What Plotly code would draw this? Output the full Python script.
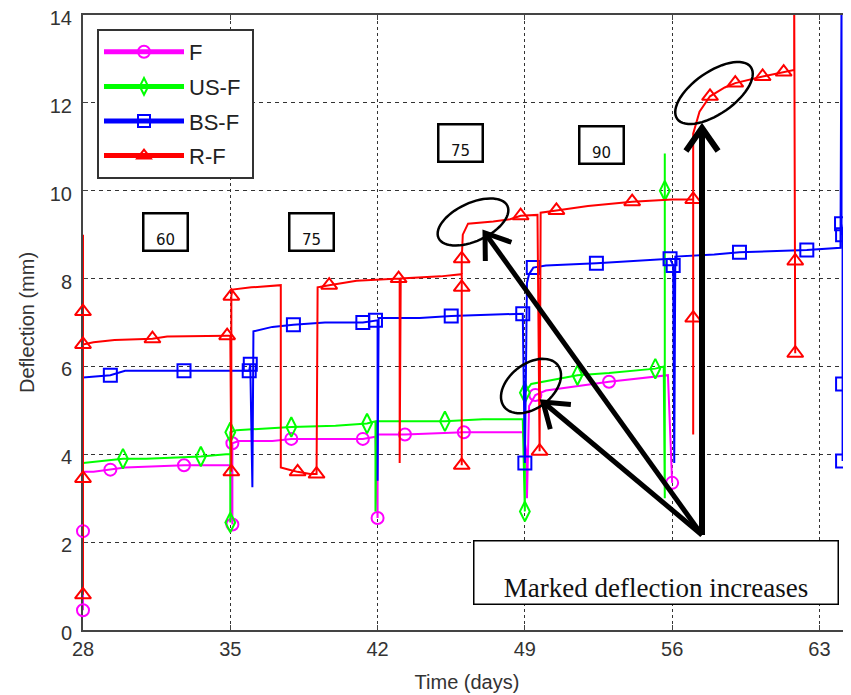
import math
import plotly.graph_objects as go

# ---------------- data ----------------
F_days = [28.0, 28.0, 28.0, 28.5, 29.3, 30.0, 32.8, 34.8, 35.0, 35.1, 35.1, 35.4, 37.0, 37.9, 41.3, 41.9, 42.0, 42.0, 43.3, 46.1, 48.9, 49.1, 49.1, 49.2, 49.5, 50.0, 53.0, 55.8, 56.0]
F_defl = [0.45, 2.25, 3.6, 3.6, 3.65, 3.7, 3.75, 3.75, 3.75, 2.4, 4.25, 4.3, 4.3, 4.35, 4.35, 4.4, 2.55, 4.45, 4.45, 4.5, 4.5, 4.0, 3.0, 5.1, 5.35, 5.45, 5.65, 5.8, 3.35]
F_mark = [1, 1, 0, 0, 1, 0, 1, 0, 0, 1, 1, 0, 0, 1, 1, 0, 1, 0, 1, 1, 0, 0, 0, 0, 1, 0, 1, 0, 1]

USF_days = [28.0, 29.0, 29.9, 31.0, 33.6, 34.8, 35.0, 35.0, 35.0, 35.3, 37.0, 37.9, 40.0, 41.5, 41.9, 41.9, 41.95, 44.0, 45.2, 47.0, 48.9, 49.0, 49.0, 49.3, 50.5, 51.5, 53.0, 55.2, 55.6, 55.65, 55.65, 55.65]
USF_defl = [3.8, 3.85, 3.9, 3.9, 3.95, 4.0, 4.0, 2.45, 4.5, 4.55, 4.6, 4.62, 4.65, 4.7, 4.75, 2.7, 4.75, 4.75, 4.75, 4.8, 4.8, 2.7, 5.4, 5.6, 5.7, 5.8, 5.85, 5.95, 6.0, 3.0, 10.0, 10.85]
USF_mark = [0, 0, 1, 0, 1, 0, 0, 1, 1, 0, 0, 1, 0, 1, 0, 0, 0, 0, 1, 0, 0, 1, 1, 0, 0, 1, 0, 1, 0, 0, 1, 0]

BSF_days = [28.0, 29.0, 29.3, 30.0, 32.8, 35.0, 35.9, 35.95, 36.05, 36.1, 36.5, 37.0, 38.0, 39.5, 41.3, 41.9, 42.0, 42.0, 42.05, 44.0, 45.5, 48.9, 49.0, 49.1, 49.2, 49.4, 50.0, 52.4, 55.9, 56.05, 56.1, 56.15, 58.0, 59.2, 62.4, 64.0, 64.05, 64.05, 64.1, 64.1, 64.1]
BSF_defl = [5.75, 5.8, 5.8, 5.9, 5.9, 5.9, 5.9, 6.05, 3.25, 6.8, 6.85, 6.9, 6.95, 7.0, 7.0, 7.05, 7.05, 3.4, 7.1, 7.1, 7.15, 7.2, 3.8, 7.9, 8.1, 8.25, 8.3, 8.35, 8.45, 8.3, 3.8, 8.5, 8.55, 8.6, 8.65, 8.7, 14.5, 9.25, 9.0, 5.6, 3.85]
BSF_mark = [0, 0, 1, 0, 1, 0, 1, 1, 0, 0, 0, 0, 1, 0, 1, 1, 0, 0, 0, 0, 1, 1, 1, 0, 0, 1, 0, 1, 1, 1, 0, 0, 0, 1, 1, 0, 0, 1, 1, 1, 1]

RF_days = [28.0, 28.0, 28.0, 28.0, 28.0, 28.5, 29.5, 31.3, 32.0, 34.85, 35.0, 35.05, 35.05, 35.1, 36.0, 37.4, 37.4, 37.8, 38.2, 38.8, 39.1, 39.15, 39.7, 41.0, 43.0, 43.05, 43.05, 43.1, 45.0, 46.0, 46.0, 46.0, 46.0, 46.05, 46.3, 47.5, 48.3, 48.8, 49.6, 49.7, 49.75, 50.5, 52.0, 54.1, 56.0, 57.0, 57.0, 57.0, 57.0, 57.3, 57.8, 58.5, 59.0, 60.3, 61.3, 61.8, 61.8, 61.85, 61.85]
RF_defl = [0.8, 3.45, 9.0, 7.25, 6.5, 6.55, 6.6, 6.63, 6.68, 6.7, 6.7, 3.6, 7.6, 7.75, 7.8, 7.85, 3.7, 3.65, 3.6, 3.55, 3.55, 7.8, 7.85, 7.95, 8.0, 8.0, 3.8, 8.0, 8.05, 8.1, 3.75, 7.8, 8.45, 9.0, 9.25, 9.3, 9.35, 9.43, 9.45, 4.07, 9.5, 9.55, 9.65, 9.75, 9.8, 9.8, 4.45, 7.1, 11.3, 11.8, 12.15, 12.35, 12.45, 12.6, 12.7, 12.75, 14.5, 8.4, 6.3]
RF_mark = [1, 1, 0, 1, 1, 0, 0, 1, 0, 1, 0, 1, 1, 0, 0, 0, 0, 0, 1, 0, 1, 0, 1, 0, 1, 0, 0, 0, 0, 0, 1, 1, 1, 0, 0, 0, 0, 1, 0, 1, 0, 1, 0, 1, 0, 1, 0, 1, 0, 0, 1, 0, 1, 1, 1, 0, 0, 1, 1]

series_names = ["F", "US-F", "BS-F", "R-F"]
series_days = [F_days, USF_days, BSF_days, RF_days]
series_defl = [F_defl, USF_defl, BSF_defl, RF_defl]
series_mark = [F_mark, USF_mark, BSF_mark, RF_mark]

stress_labels = ["60", "75", "75", "90"]
note_text = "Marked deflection increases"

x_ticks = [28, 35, 42, 49, 56, 63]
y_ticks = [0, 2, 4, 6, 8, 10, 12, 14]

# ---------------- styles ----------------
colors = ["#FF00FF", "#00FF00", "#0000FF", "#FF0000"]
symbols = ["circle-open", "diamond-tall-open", "square-open", "triangle-up-open"]
msizes = [12, 14, 13, 14]

OFF = 8                      # page body margin
W, H = 843, 687
ML, MR, MT, MB = 75, 0, 7, 65
PW, PH = W - ML - MR, H - MT - MB


def px(xp, yp):
    """position in the screenshot (pixels) -> paper coordinates"""
    return (xp - OFF - ML) / PW, (H - MB - (yp - OFF)) / PH


fig = go.Figure()

# legend entries
for i, name in enumerate(series_names):
    fig.add_trace(go.Scatter(
        x=[None], y=[None], mode="lines+markers", name=name + "\u00a0",
        legendgroup=name,
        line=dict(color=colors[i], width=1.6),
        marker=dict(symbol=symbols[i], size=msizes[i], color=colors[i], line=dict(width=2, color=colors[i])),
    ))

# lines and markers
for i, name in enumerate(series_names):
    xs, ys, ms = series_days[i], series_defl[i], series_mark[i]
    fig.add_trace(go.Scatter(
        x=xs, y=ys, mode="lines", showlegend=False, legendgroup=name,
        line=dict(color=colors[i], width=2), hoverinfo="skip",
    ))
    fig.add_trace(go.Scatter(
        x=[x for x, m in zip(xs, ms) if m], y=[y for y, m in zip(ys, ms) if m],
        mode="markers", showlegend=False, legendgroup=name, cliponaxis=False,
        marker=dict(symbol=symbols[i], size=msizes[i], color=colors[i], line=dict(width=2, color=colors[i])),
    ))

shapes = []
annotations = []

# stress level boxes
box_centers = [(165, 232), (311, 232), (460, 143), (601, 145)]
for lab, (cx, cy) in zip(stress_labels, box_centers):
    xp, yp = px(cx, cy)
    annotations.append(dict(
        x=xp, y=yp, xref="paper", yref="paper", xanchor="center", yanchor="middle",
        text=lab, showarrow=False,
        font=dict(family="DejaVu Sans", size=15, color="#111"),
        width=40, height=33, bordercolor="black", borderwidth=2.5, bgcolor="white",
        valign="bottom", align="center",
    ))

# note box
xp, yp = px(656, 572)
annotations.append(dict(
    x=xp, y=yp, xref="paper", yref="paper", xanchor="center", yanchor="middle",
    text=note_text, showarrow=False,
    font=dict(family="Liberation Serif", size=27, color="#111"),
    width=361, height=60, bordercolor="black", borderwidth=1.5, bgcolor="white",
    valign="bottom", align="center",
))


def ellipse_path(cx, cy, a, b, ang_deg, n=60):
    ang = math.radians(ang_deg)
    pts = []
    for k in range(n + 1):
        t = 2 * math.pi * k / n
        x = cx + a * math.cos(ang) * math.cos(t) - b * math.sin(ang) * math.sin(t)
        y = cy + a * math.sin(ang) * math.cos(t) + b * math.cos(ang) * math.sin(t)
        pts.append(px(x, y))
    return "M " + " L ".join(f"{p[0]:.5f},{p[1]:.5f}" for p in pts) + " Z"


for (cx, cy, a, b, ang) in [(473, 222, 38, 19, -25), (531, 386, 34, 22, -38), (714, 93, 45, 21, -35)]:
    shapes.append(dict(type="path", xref="paper", yref="paper", path=ellipse_path(cx, cy, a, b, ang),
                       line=dict(color="black", width=2.5)))

# arrows
tail = (702, 535)
for head, w in [((485, 233), 5), ((543, 402), 5), ((702, 128), 6)]:
    x0, y0 = px(*tail)
    x1, y1 = px(*head)
    shapes.append(dict(type="line", xref="paper", yref="paper", x0=x0, y0=y0, x1=x1, y1=y1,
                       line=dict(color="black", width=w)))
    dx, dy = head[0] - tail[0], head[1] - tail[1]
    L = math.hypot(dx, dy)
    ux, uy = dx / L, dy / L
    arm = 28
    pts = []
    for s in (1, -1):
        a = math.radians(35 * s)
        rx = ux * math.cos(a) - uy * math.sin(a)
        ry = ux * math.sin(a) + uy * math.cos(a)
        pts.append(px(head[0] - arm * rx, head[1] - arm * ry))
    hp = px(*head)
    path = f"M {pts[0][0]:.5f},{pts[0][1]:.5f} L {hp[0]:.5f},{hp[1]:.5f} L {pts[1][0]:.5f},{pts[1][1]:.5f}"
    shapes.append(dict(type="path", xref="paper", yref="paper", path=path,
                       line=dict(color="black", width=w)))

axis_font = dict(family="Liberation Sans", size=20, color="#333")
lx, ly = px(97, 29)

fig.update_layout(
    width=W, height=H,
    margin=dict(l=ML, r=MR, t=MT, b=MB, autoexpand=False),
    paper_bgcolor="white", plot_bgcolor="white",
    showlegend=True,
    legend=dict(
        x=lx, y=ly, xanchor="left", yanchor="top",
        bgcolor="white", bordercolor="#333", borderwidth=2,
        font=dict(family="Liberation Sans", size=22, color="#222"),
        tracegroupgap=3, itemsizing="constant", itemwidth=80,
    ),
    xaxis=dict(
        range=[28, 64.5], tickmode="array", tickvals=x_ticks, ticktext=[str(v) for v in x_ticks],
        showgrid=True, gridcolor="#333", gridwidth=1, griddash="3px,3px",
        showline=True, linecolor="#444", linewidth=2, mirror="ticks",
        ticks="inside", ticklen=5, tickcolor="#444", tickfont=axis_font,
        zeroline=False, automargin=False, layer="below traces", ticklabeloverflow="allow",
        title=dict(text="Time (days)", font=dict(family="Liberation Sans", size=20, color="#333"), standoff=16),
    ),
    yaxis=dict(
        range=[0, 14], tickmode="array", tickvals=y_ticks, ticktext=[str(v) for v in y_ticks],
        showgrid=True, gridcolor="#333", gridwidth=1, griddash="4px,4px",
        showline=True, linecolor="#444", linewidth=2, mirror="ticks",
        ticks="inside", ticklen=5, tickcolor="#444", tickfont=axis_font,
        zeroline=False, automargin=False, layer="below traces", ticklabeloverflow="allow",
        ticklabelshift=3, ticklabelstandoff=5,
        title=dict(text="Deflection (mm)", font=dict(family="Liberation Sans", size=20, color="#333"), standoff=10),
    ),
    shapes=shapes,
    annotations=annotations,
)

fig.write_html("out.html")
